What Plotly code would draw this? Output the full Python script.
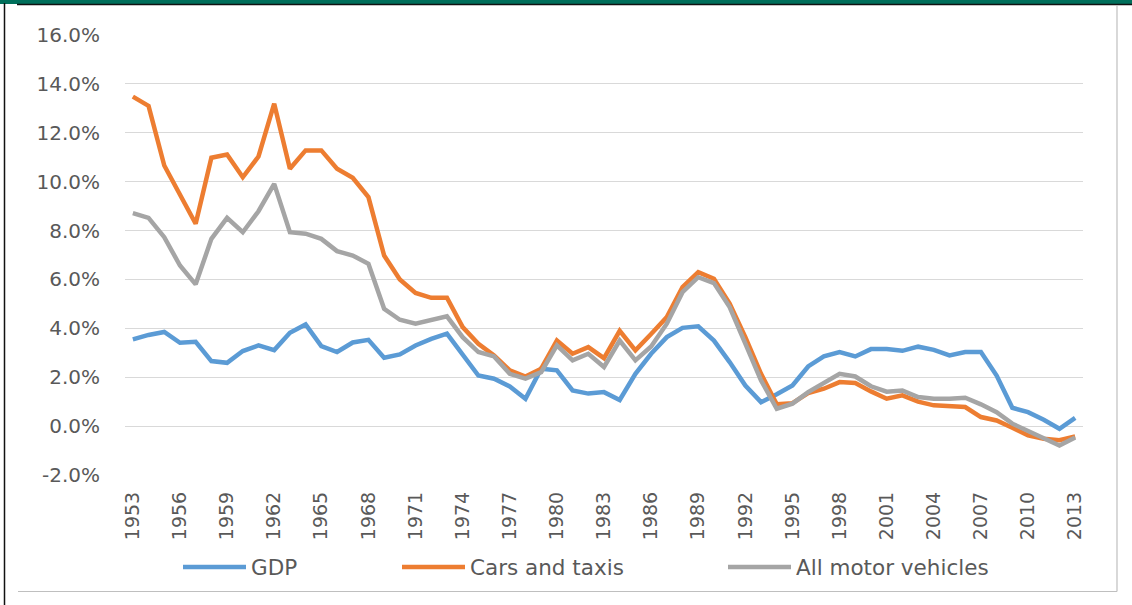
import plotly.graph_objects as go

years = [str(y) for y in range(1953, 2014)]

gdp = [3.55, 3.73, 3.85, 3.41, 3.45, 2.66, 2.59, 3.07, 3.30, 3.11,
       3.82, 4.16, 3.27, 3.03, 3.42, 3.53, 2.80, 2.93, 3.30, 3.57,
       3.78, 2.89, 2.07, 1.94, 1.62, 1.12, 2.35, 2.28, 1.46, 1.33,
       1.39, 1.07, 2.14, 2.96, 3.64, 4.02, 4.08, 3.50, 2.62, 1.66,
       0.98, 1.30, 1.66, 2.44, 2.85, 3.03, 2.85, 3.15, 3.15, 3.08,
       3.25, 3.12, 2.89, 3.03, 3.03, 2.07, 0.75, 0.57, 0.26, -0.11,
       0.34]

cars_taxis = [13.48, 13.10, 10.66, 9.45, 8.28, 10.98, 11.11, 10.18, 11.03, 13.19,
              10.53, 11.28, 11.28, 10.53, 10.16, 9.37, 6.98, 6.00, 5.45, 5.25,
              5.25, 4.05, 3.37, 2.89, 2.28, 2.03, 2.35, 3.50, 2.96, 3.23,
              2.78, 3.90, 3.10, 3.77, 4.46, 5.69, 6.30, 6.03, 5.01, 3.64,
              2.14, 0.89, 0.94, 1.35, 1.53, 1.80, 1.76, 1.42, 1.12, 1.26,
              1.00, 0.85, 0.83, 0.78, 0.37, 0.23, -0.07, -0.38, -0.52, -0.58,
              -0.42]

all_motor = [8.71, 8.52, 7.73, 6.57, 5.80, 7.66, 8.52, 7.93, 8.79, 9.91,
             7.93, 7.87, 7.66, 7.16, 6.98, 6.64, 4.80, 4.35, 4.19, 4.32,
             4.49, 3.64, 3.03, 2.85, 2.14, 1.94, 2.21, 3.30, 2.69, 2.96,
             2.42, 3.50, 2.69, 3.26, 4.19, 5.48, 6.09, 5.85, 4.87, 3.37,
             1.87, 0.71, 0.92, 1.39, 1.76, 2.14, 2.03, 1.63, 1.41, 1.46,
             1.19, 1.12, 1.12, 1.16, 0.89, 0.57, 0.10, -0.20, -0.45, -0.79,
             -0.47]

x_tick_labels = years[::3]
y_tick_values = [-2, 0, 2, 4, 6, 8, 10, 12, 14, 16]

series_names = ["GDP", "Cars and taxis", "All motor vehicles"]
series_colors = ["#5B9BD5", "#ED7D31", "#A5A5A5"]

W, H = 1132, 605
L, R, T, B = 125, 49, 35, 130
pw, ph = W - L - R, H - T - B


def px_x(p):
    return (p - L) / pw


def px_y(p):
    return (H - B - p) / ph


fig = go.Figure()
legends = ["legend", "legend2", "legend3"]
for vals, name, col, lg in zip([gdp, cars_taxis, all_motor], series_names, series_colors, legends):
    fig.add_trace(go.Scatter(
        x=years, y=vals, name=name, mode="lines",
        line=dict(color=col, width=4.5),
        legend=lg, showlegend=True,
        hovertemplate="%{x}: %{y:.1f}%<extra>" + name + "</extra>",
    ))

x_font = dict(family="DejaVu Sans", size=19, color="#595959")
y_font = dict(family="DejaVu Sans", size=20, color="#595959")
leg_common = dict(orientation="h", yanchor="middle", xanchor="left",
                  font=dict(family="DejaVu Sans", size=21.5, color="#595959"),
                  bgcolor="rgba(0,0,0,0)", itemwidth=63)

fig.update_layout(
    width=W, height=H,
    margin=dict(l=L, r=R, t=T, b=B),
    paper_bgcolor="white", plot_bgcolor="white",
    font=x_font,
    showlegend=True,
    legend=dict(x=px_x(178), y=px_y(567), **leg_common),
    legend2=dict(x=px_x(397), y=px_y(567), **leg_common),
    legend3=dict(x=px_x(723), y=px_y(567), **leg_common),
    xaxis=dict(type="category", range=[-0.5, len(years) - 0.5],
               tickmode="array", tickvals=x_tick_labels, ticktext=x_tick_labels,
               tickangle=-90, showgrid=False, showline=False, zeroline=False,
               ticks="", ticklabelstandoff=12, tickfont=x_font),
    yaxis=dict(range=[-2, 16], tickvals=y_tick_values,
               ticktext=[f"{v:.1f}%" for v in y_tick_values],
               showgrid=True, gridcolor="#D9D9D9", gridwidth=1.2,
               zeroline=False, showline=False, ticks="",
               ticklabelstandoff=24, tickfont=y_font),
    shapes=[
        dict(type="rect", xref="paper", yref="paper", x0=px_x(0), x1=px_x(W),
             y0=px_y(0), y1=px_y(4), fillcolor="#006F5B", line=dict(width=0), layer="above"),
        dict(type="line", xref="paper", yref="paper", x0=px_x(17), x1=px_x(W),
             y0=px_y(4.5), y1=px_y(4.5), line=dict(color="#111111", width=1.5)),
        dict(type="line", xref="paper", yref="paper", x0=px_x(4.5), x1=px_x(4.5),
             y0=px_y(3), y1=px_y(H), line=dict(color="#111111", width=1.5)),
        dict(type="line", xref="paper", yref="paper", x0=px_x(1117), x1=px_x(1117),
             y0=px_y(5), y1=px_y(591.5), line=dict(color="#BFBFBF", width=1.2)),
        dict(type="line", xref="paper", yref="paper", x0=px_x(18), x1=px_x(1117),
             y0=px_y(591.5), y1=px_y(591.5), line=dict(color="#BFBFBF", width=1.2)),
    ],
)

fig.write_html("out.html", config={"displayModeBar": False},
               post_script="document.body.style.margin='0';")
